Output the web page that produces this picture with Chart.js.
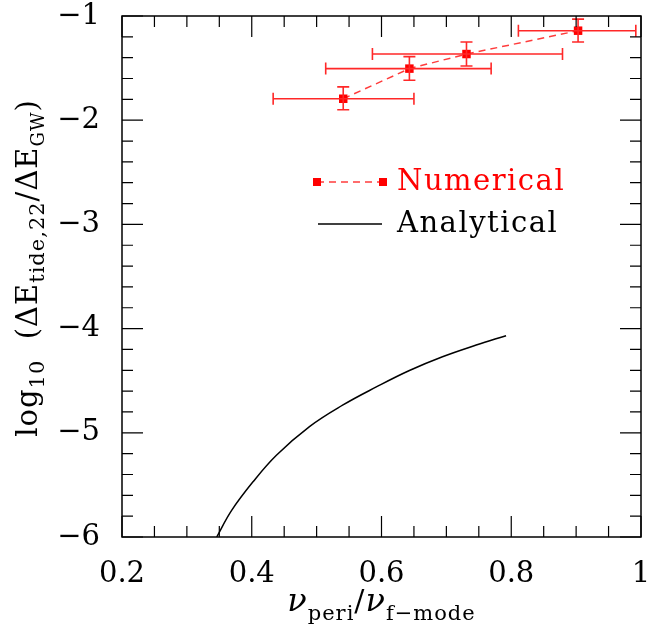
<!DOCTYPE html>
<html>
<head>
<meta charset="utf-8">
<script src="https://cdn.jsdelivr.net/npm/chart.js@4.4.0/dist/chart.umd.min.js"></script>
<style>
  html, body { margin: 0; padding: 0; background: #fff; }
  #wrap { width: 647px; height: 633px; }
</style>
</head>
<body>
<div id="wrap"><canvas id="chart"></canvas></div>
<script>
// numerical points with error bars
const numX = [0.541, 0.643, 0.731, 0.903];
const numY = [-1.794, -1.505, -1.365, -1.141];
const numXLow = [0.433, 0.514, 0.586, 0.811];
const numXHigh = [0.650, 0.769, 0.879, 0.992];
const numYLow = [-1.90, -1.617, -1.48, -1.25];
const numYHigh = [-1.68, -1.39, -1.25, -1.03];

// analytical curve
const anaX = [0.346, 0.369, 0.402, 0.438, 0.489, 0.540, 0.592, 0.643, 0.694, 0.746, 0.792];
const anaY = [-6.0, -5.745, -5.47, -5.215, -4.94, -4.735, -4.56, -4.402, -4.27, -4.158, -4.068];

// ticks
const xTicks = [0.2, 0.4, 0.6, 0.8, 1];
const yTicks = [-6, -5, -4, -3, -2, -1];
const xMinorStep = 0.05;
const yMinorStep = 0.2;

const RED = 'rgb(255,0,0)';
const SERIF = '"DejaVu Serif", serif';

function fmt(v) {
  const s = String(Math.round(v * 100) / 100);
  return v < 0 ? '\u2212' + s.slice(1) : s;
}

// box + inward ticks on all four sides
const frameTicks = {
  id: 'frameTicks',
  afterDraw(chart) {
    const { ctx, chartArea: a, scales: { x, y } } = chart;
    ctx.save();
    ctx.strokeStyle = '#000';
    ctx.lineWidth = 1.5;
    ctx.strokeRect(a.left, a.top, a.right - a.left, a.bottom - a.top);
    ctx.lineWidth = 1.2;
    ctx.beginPath();
    for (let v = x.min; v <= x.max + 1e-9; v += xMinorStep) {
      const px = x.getPixelForValue(v);
      const major = xTicks.some(t => Math.abs(t - v) < 1e-6);
      const len = major ? 21 : 11;
      ctx.moveTo(px, a.bottom); ctx.lineTo(px, a.bottom - len);
      ctx.moveTo(px, a.top); ctx.lineTo(px, a.top + len);
    }
    for (let v = y.min; v <= y.max + 1e-9; v += yMinorStep) {
      const py = y.getPixelForValue(v);
      const major = yTicks.some(t => Math.abs(t - v) < 1e-6);
      const len = major ? 21 : 11;
      ctx.moveTo(a.left, py); ctx.lineTo(a.left + len, py);
      ctx.moveTo(a.right, py); ctx.lineTo(a.right - len, py);
    }
    ctx.stroke();
    ctx.restore();
  }
};

// error bars for the numerical set
const errorBars = {
  id: 'errorBars',
  afterDatasetsDraw(chart) {
    const { ctx, scales: { x, y } } = chart;
    const cap = 6;
    ctx.save();
    ctx.strokeStyle = 'rgb(255,40,40)';
    ctx.lineWidth = 1.6;
    ctx.beginPath();
    for (let i = 0; i < numX.length; i++) {
      const cx = x.getPixelForValue(numX[i]);
      const cy = y.getPixelForValue(numY[i]);
      const x0 = x.getPixelForValue(numXLow[i]);
      const x1 = x.getPixelForValue(numXHigh[i]);
      const y0 = y.getPixelForValue(numYLow[i]);
      const y1 = y.getPixelForValue(numYHigh[i]);
      ctx.moveTo(x0, cy); ctx.lineTo(x1, cy);
      ctx.moveTo(x0, cy - cap); ctx.lineTo(x0, cy + cap);
      ctx.moveTo(x1, cy - cap); ctx.lineTo(x1, cy + cap);
      ctx.moveTo(cx, y0); ctx.lineTo(cx, y1);
      ctx.moveTo(cx - cap, y0); ctx.lineTo(cx + cap, y0);
      ctx.moveTo(cx - cap, y1); ctx.lineTo(cx + cap, y1);
    }
    ctx.stroke();
    ctx.restore();
  }
};

// draw text made of pieces: [text, size, baseline shift, italic]
function pieceWidth(ctx, parts) {
  let w = 0;
  for (const p of parts) {
    ctx.font = (p[3] ? 'italic ' : '') + p[1] + 'px ' + SERIF;
    w += ctx.measureText(p[0]).width;
  }
  return w;
}
function drawPieces(ctx, parts, x, y) {
  for (const p of parts) {
    ctx.font = (p[3] ? 'italic ' : '') + p[1] + 'px ' + SERIF;
    ctx.fillText(p[0], x, y + p[2]);
    x += ctx.measureText(p[0]).width;
  }
}

const axisTitles = {
  id: 'axisTitles',
  afterDraw(chart) {
    const { ctx, chartArea: a } = chart;
    ctx.save();
    ctx.fillStyle = '#000';
    ctx.textBaseline = 'alphabetic';
    ctx.textAlign = 'left';
    ctx.letterSpacing = '1px';
    const xParts = [['\u03bd', 32, 0, true], ['peri', 21, 9], ['/', 30, 0], ['\u03bd', 32, 0, true], ['f\u2212mode', 21, 9]];
    const xw = pieceWidth(ctx, xParts);
    drawPieces(ctx, xParts, (a.left + a.right) / 2 - xw / 2, 611);

    const yParts = [['log', 29, 0], ['10', 21, 7], ['  (\u0394E', 29, 0], ['tide,22', 21, 7], ['/\u0394E', 29, 0], ['GW', 18, 7], [')', 29, 0]];
    const yw = pieceWidth(ctx, yParts);
    ctx.translate(37, 268);
    ctx.rotate(-Math.PI / 2);
    drawPieces(ctx, yParts, -yw / 2, 0);
    ctx.restore();
  }
};

// legend inside the plot
const innerLegend = {
  id: 'innerLegend',
  afterDraw(chart) {
    const { ctx } = chart;
    ctx.save();
    ctx.font = '29px ' + SERIF;
    ctx.letterSpacing = '1.5px';
    ctx.textBaseline = 'middle';
    // numerical
    ctx.strokeStyle = 'rgb(255,60,60)';
    ctx.lineWidth = 1.5;
    ctx.setLineDash([7, 5]);
    ctx.beginPath(); ctx.moveTo(317, 182); ctx.lineTo(383, 182); ctx.stroke();
    ctx.setLineDash([]);
    ctx.fillStyle = RED;
    ctx.fillRect(313, 178, 8, 8);
    ctx.fillRect(379, 178, 8, 8);
    ctx.fillText(chart.data.datasets[0].label, 397, 182);
    // analytical
    ctx.strokeStyle = '#000';
    ctx.beginPath(); ctx.moveTo(318, 224); ctx.lineTo(382, 224); ctx.stroke();
    ctx.fillStyle = '#000';
    ctx.fillText(chart.data.datasets[1].label, 397, 224);
    ctx.restore();
  }
};

new Chart(document.getElementById('chart'), {
  type: 'scatter',
  data: {
    datasets: [
      {
        label: 'Numerical',
        data: numX.map((v, i) => ({ x: v, y: numY[i] })),
        showLine: true,
        borderColor: 'rgb(255,60,60)',
        borderWidth: 1.5,
        borderDash: [7, 5],
        pointStyle: 'rect',
        pointRadius: 6,
        pointBackgroundColor: RED,
        pointBorderWidth: 0
      },
      {
        label: 'Analytical',
        data: anaX.map((v, i) => ({ x: v, y: anaY[i] })),
        showLine: true,
        borderColor: '#000',
        borderWidth: 1.5,
        pointRadius: 0,
        tension: 0.4
      }
    ]
  },
  options: {
    responsive: true,
    maintainAspectRatio: false,
    animation: false,
    layout: { padding: { left: 0, right: 5, top: 16, bottom: 0 } },
    plugins: { legend: { display: false }, tooltip: { enabled: false } },
    scales: {
      x: {
        type: 'linear', min: 0.2, max: 1,
        afterBuildTicks: s => { s.ticks = xTicks.map(v => ({ value: v })); },
        afterFit: s => { s.height = 96; s.paddingLeft = 0; s.paddingRight = 0; },
        grid: { display: false },
        border: { display: false },
        ticks: { color: '#000', font: { family: SERIF, size: 29 }, padding: 12, maxRotation: 0, callback: v => fmt(v) }
      },
      y: {
        type: 'linear', min: -6, max: -1,
        afterBuildTicks: s => { s.ticks = yTicks.map(v => ({ value: v })); },
        afterFit: s => { s.width = 122; s.paddingTop = 0; s.paddingBottom = 0; },
        grid: { display: false },
        border: { display: false },
        ticks: { color: '#000', font: { family: SERIF, size: 29 }, padding: 14, callback: v => fmt(v) }
      }
    }
  },
  plugins: [errorBars, frameTicks, axisTitles, innerLegend]
});
</script>
</body>
</html>
